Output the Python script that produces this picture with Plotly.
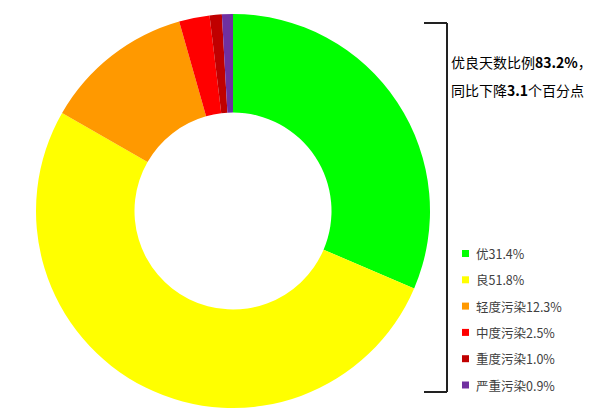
import plotly.graph_objects as go

# air quality levels and their share of days (%)
levels = ['优', '良', '轻度污染', '中度污染', '重度污染', '严重污染']
shares = [31.4, 51.8, 12.3, 2.5, 1.0, 0.9]
colors = ['#00ff00', '#ffff00', '#ff9900', '#ff0000', '#c00000', '#7030a0']

good_ratio = 83.2
change = 3.1

W, H = 600, 418
OFF = 8  # page body margin pushes the figure by this much


def px(x):
    return (x - OFF) / W


def py(y):
    return 1 - (y - OFF) / H


fig = go.Figure(go.Pie(
    labels=levels,
    values=shares,
    marker=dict(colors=colors, line=dict(width=0)),
    hole=0.5,
    sort=False,
    direction='clockwise',
    rotation=0,
    textinfo='none',
    hoverinfo='label+percent',
    showlegend=False,
    domain=dict(x=[px(36), px(430)], y=[py(408), py(14)]),
))

# bracket on the right of the donut
line_style = dict(color='#222222', width=2)
fig.add_shape(type='line', xref='paper', yref='paper',
              x0=px(447), x1=px(447), y0=py(23), y1=py(392), line=line_style)
fig.add_shape(type='line', xref='paper', yref='paper',
              x0=px(424), x1=px(447), y0=py(23), y1=py(23), line=line_style)
fig.add_shape(type='line', xref='paper', yref='paper',
              x0=px(424), x1=px(447), y0=py(392), y1=py(392), line=line_style)

# summary text
fig.add_annotation(xref='paper', yref='paper', x=px(449), y=py(62),
                   xanchor='left', yanchor='middle', showarrow=False,
                   text=f'优良天数比例<b>{good_ratio}%</b>，',
                   font=dict(family='Noto Sans CJK SC', size=14, color='#000000'))
fig.add_annotation(xref='paper', yref='paper', x=px(449), y=py(90),
                   xanchor='left', yanchor='middle', showarrow=False,
                   text=f'同比下降<b>{change}</b>个百分点',
                   font=dict(family='Noto Sans CJK SC', size=14, color='#000000'))

# hand-made legend
row0, step = 253.5, 26.3
for i, (lab, val, col) in enumerate(zip(levels, shares, colors)):
    yc = row0 + i * step
    fig.add_shape(type='rect', xref='paper', yref='paper',
                  x0=px(462), x1=px(469), y0=py(yc - 3.5), y1=py(yc + 3.5),
                  fillcolor=col, line=dict(width=0))
    fig.add_annotation(xref='paper', yref='paper', x=px(474), y=py(yc),
                       xanchor='left', yanchor='middle', showarrow=False,
                       text=f'{lab}{val}%',
                       font=dict(family='Noto Sans CJK SC', size=12.5, color='#404040'))

fig.update_layout(
    width=W, height=H,
    margin=dict(l=0, r=0, t=0, b=0),
    paper_bgcolor='white',
    plot_bgcolor='white',
)

fig.write_html('out.html')
